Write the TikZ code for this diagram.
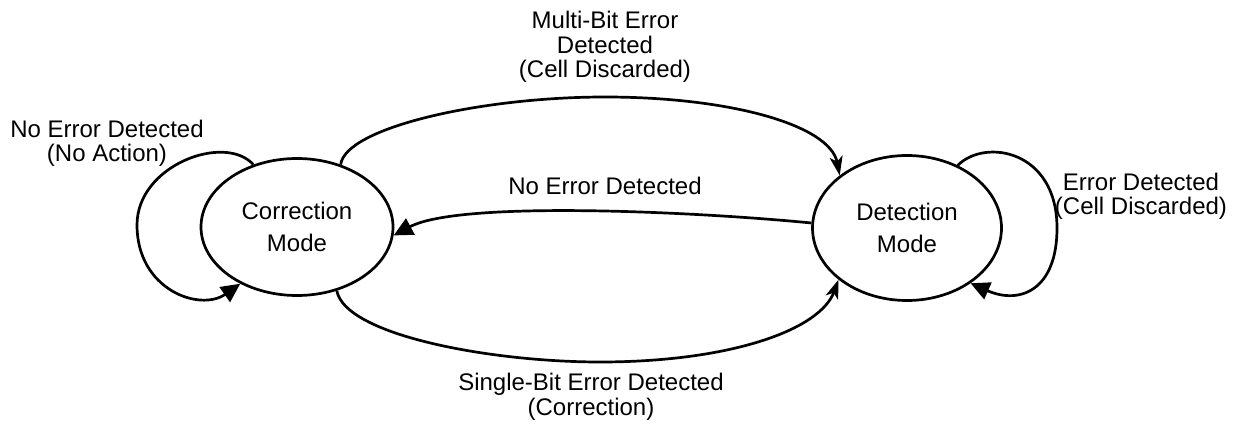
\documentclass[tikz,border=0pt]{standalone}
\usepackage{fontspec}
\setmainfont{Liberation Sans}
\usetikzlibrary{shapes.geometric,arrows.meta}
\begin{document}
\begin{tikzpicture}[x=1pt,y=-1pt,
  mode/.style={draw,ellipse,line width=2.7pt,inner sep=0pt,align=center,
    font=\fontsize{24}{31.5}\selectfont},
  lbl/.style={align=center,inner sep=0pt,anchor=base,
    font=\fontsize{24}{24.5}\selectfont},
  trans/.style={line width=2.7pt},
  tri/.style={-{Triangle[length=19pt,width=18pt]}},
  stl/.style={-{Stealth[length=19pt,width=13pt,inset=5pt]}}]
  \useasboundingbox (0,0) rectangle (1241,427);

  % States
  \node[mode,minimum width=192pt,minimum height=137pt] (cor) at (297,227) {Correction\\Mode};
  \node[mode,minimum width=189pt,minimum height=145pt] (det) at (907,228) {Detection\\Mode};

  % Labels (base = last line)
  \node[lbl] (lblmulti)  at (605,78)  {Multi-Bit Error\\Detected\\(Cell Discarded)};
  \node[lbl] (lblnoerr)  at (605,195) {No Error Detected};
  \node[lbl] (lblsingle) at (591,415) {Single-Bit Error Detected\\(Correction)};
  \node[lbl] (lblstay)   at (107,162) {No Error Detected\\(No Action)};
  \node[lbl] (lbldrop)   at (1141,215) {Error Detected\\(Cell Discarded)};

  % Self loops
  \draw[trans,tri] (cor.125) .. controls (225,133) and (137,165) .. (137,225)
    .. controls (137,290) and (200,312) .. (cor.225);
  \draw[trans,tri] (det.51) .. controls (985,138) and (1057,150) .. (1057,228)
    .. controls (1057,290) and (1020,305) .. (det.319);

  % Transitions between modes
  \draw[trans,stl] (cor.55) .. controls (345,128) and (480,97) .. (605,97)
    .. controls (730,97) and (830,125) .. (det.142);
  \draw[trans,tri] (det.177) .. controls (700,212) and (460,200) .. (cor.355);
  \draw[trans,stl] (cor.302) .. controls (345,335) and (490,362) .. (600,362)
    .. controls (730,362) and (820,330) .. (det.217);
\end{tikzpicture}
\end{document}
